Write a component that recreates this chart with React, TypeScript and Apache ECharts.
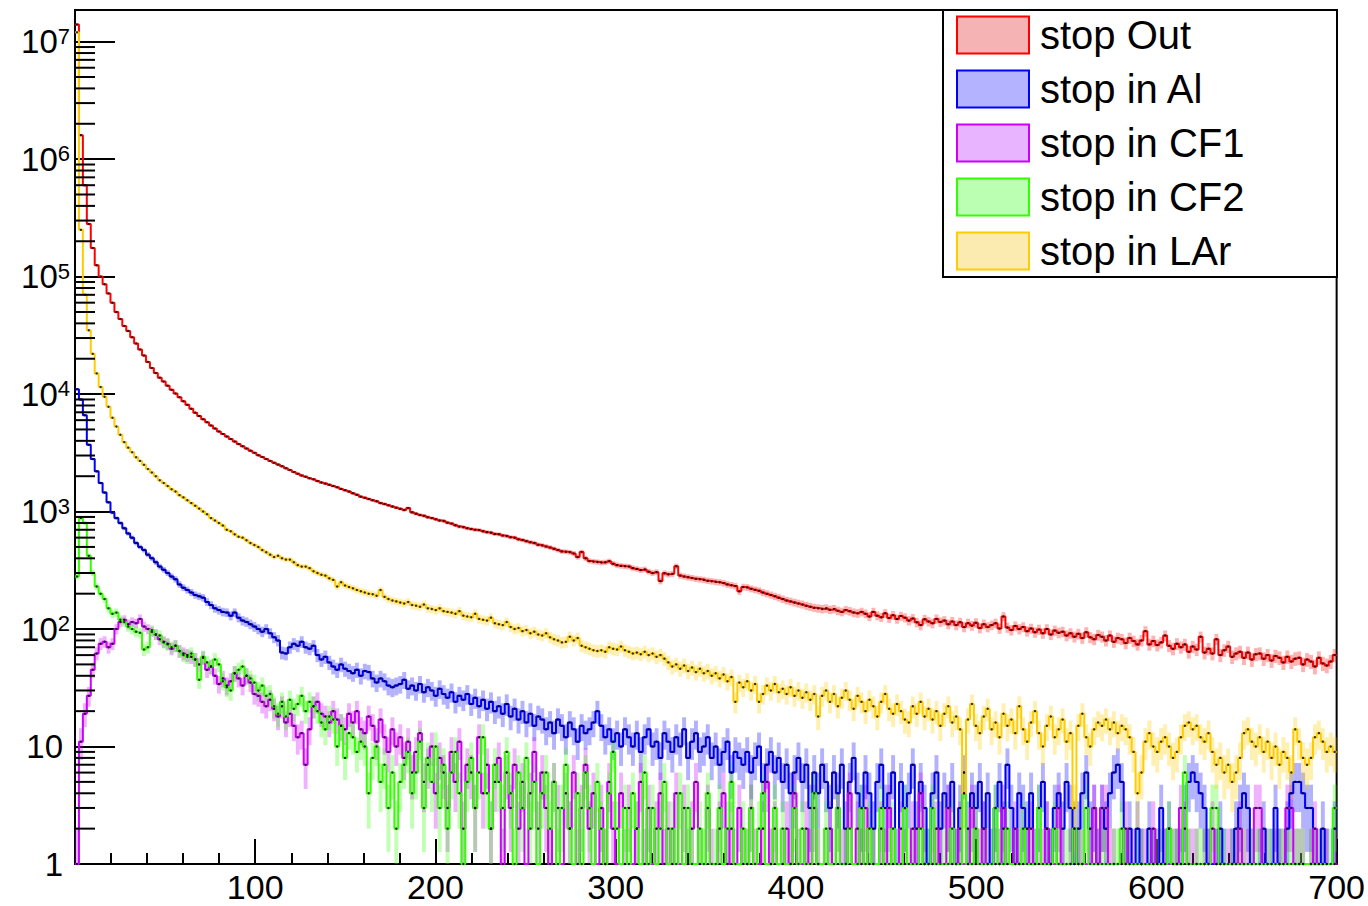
import React, { useEffect, useRef } from "react";
import * as echarts from "echarts";

const X_MIN = 0;
const X_MAX = 700;
const Y_MIN = 1;
const Y_MAX = 1.86e7;
const BIN_COUNT = 320;
const FONT = "'Liberation Sans', Arial, Helvetica, sans-serif";

const LEGEND_NAMES = ["stop Out", "stop in Al", "stop in CF1", "stop in CF2", "stop in LAr"];
const LINE_COLORS = ["#ff0000", "#0000ff", "#cc00ff", "#33ff00", "#ffcc00"];
const BAND_COLORS = [
  "rgba(255,0,0,0.3)",
  "rgba(0,0,255,0.3)",
  "rgba(204,0,255,0.3)",
  "rgba(51,255,0,0.3)",
  "rgba(255,204,0,0.3)",
];
const LEGEND_FILLS = ["#f5b3b3", "#b3b3ff", "#e8b3ff", "#bbffb3", "#fcebb0"];

// counts per bin (320 bins from 0 to 700)
const OUT_COUNTS = [
  14000000, 1600000, 600000, 280000, 175000, 125000, 100000, 86000, 72000, 60000,
  50000, 43500, 38000, 34500, 30500, 27000, 24000, 21300, 18800, 16700,
  15100, 13800, 12800, 11800, 10900, 10100, 9400, 8700, 8100, 7500,
  6950, 6500, 6100, 5750, 5400, 5100, 4800, 4580, 4350, 4150,
  3950, 3760, 3600, 3440, 3300, 3160, 3020, 2910, 2800, 2700,
  2600, 2510, 2430, 2340, 2260, 2170, 2100, 2030, 1980, 1920,
  1880, 1820, 1770, 1730, 1690, 1650, 1610, 1560, 1520, 1480,
  1430, 1390, 1340, 1310, 1280, 1250, 1225, 1180, 1160, 1130,
  1105, 1080, 1055, 1030, 1070, 985, 960, 935, 920, 895,
  880, 860, 840, 830, 805, 790, 765, 745, 735, 720,
  710, 700, 695, 680, 668, 660, 645, 640, 625, 618,
  605, 598, 580, 572, 560, 548, 540, 522, 515, 505,
  495, 482, 470, 458, 455, 450, 440, 410, 452, 400,
  380, 375, 372, 368, 370, 378, 360, 350, 345, 342,
  340, 330, 325, 318, 322, 308, 300, 305, 256, 298,
  292, 295, 342, 285, 280, 276, 272, 268, 265, 262,
  258, 255, 252, 250, 246, 240, 236, 232, 210, 228,
  226, 220, 216, 212, 205, 200, 195, 190, 185, 180,
  175, 172, 168, 165, 162, 158, 155, 152, 150, 148,
  150, 146, 148, 143, 140, 145, 142, 138, 136, 140,
  135, 128, 140, 130, 126, 136, 124, 131, 122, 129,
  125, 118, 123, 114, 108, 121, 116, 112, 122, 115,
  118, 110, 116, 108, 114, 104, 112, 107, 113, 102,
  110, 104, 108, 112, 101, 128, 103, 98, 106, 100,
  104, 96, 101, 94, 99, 92, 100, 90, 97, 93,
  95, 88, 92, 86, 91, 84, 94, 85, 82, 89,
  86, 80, 88, 78, 84, 82, 76, 84, 79, 74,
  80, 96, 74, 79, 73, 77, 88, 72, 68, 75,
  70, 74, 64, 71, 67, 86, 63, 68, 62, 82,
  60, 66, 71, 58, 62, 64, 57, 63, 55, 61,
  62, 56, 60, 54, 59, 57, 52, 58, 53, 56,
  57, 50, 55, 53, 48, 57, 51, 49, 53, 60,
];

const AL_COUNTS = [
  11000, 9000, 6600, 3700, 2800, 2200, 1750, 1450, 1200, 980,
  880, 800, 720, 650, 600, 540, 500, 470, 430, 400,
  370, 340, 320, 300, 280, 265, 240, 225, 215, 205,
  195, 190, 185, 170, 160, 150, 145, 140, 138, 130,
  138, 125, 118, 115, 110, 105, 100, 95, 100, 92,
  85, 80, 63, 62, 70, 75, 72, 78, 70, 68,
  72, 60, 55, 58, 52, 48, 45, 50, 46, 44,
  42, 45, 40, 44, 43, 38, 35, 38, 36, 33,
  32, 33, 34, 37, 31, 33, 30, 34, 29, 32,
  30, 27, 31, 28, 26, 29, 24, 27, 25, 28,
  23, 26, 22, 25, 21, 24, 20, 22, 19, 23,
  18, 21, 17, 20, 16, 19, 15, 18, 17, 14,
  16, 13, 17, 15, 12, 16, 14, 11, 15, 13,
  14, 16, 20, 15, 12, 14, 11, 13, 10, 14,
  12, 10, 13, 9, 12, 14, 10, 11, 8, 13,
  11, 9, 12, 10, 14, 8, 11, 13, 9, 10,
  12, 8, 10, 7, 9, 11, 6, 9, 8, 7,
  9, 6, 8, 10, 5, 7, 9, 6, 8, 5,
  7, 4, 6, 8, 5, 7, 3, 6, 4, 7,
  5, 3, 6, 4, 7, 2, 5, 8, 4, 3,
  6, 4, 2, 5, 7, 3, 4, 6, 1, 5,
  3, 4, 7, 2, 5, 3, 1, 4, 6, 2,
  4, 3, 5, 1, 3, 6, 2, 4, 3, 5,
  2, 4, 1, 3, 5, 2, 7, 3, 1, 4,
  3, 2, 4, 1, 3, 5, 2, 1, 3, 4,
  2, 5, 3, 1, 2, 4, 6, 2, 3, 1,
  3, 2, 4, 6, 7, 5, 1, 2, 0, 2,
  1, 0, 2, 1, 0, 3, 1, 2, 0, 1,
  1, 3, 5, 6, 5, 4, 3, 1, 0, 1,
  2, 1, 0, 1, 2, 3, 4, 3, 1, 0,
  1, 2, 0, 1, 3, 1, 0, 2, 4, 5,
  5, 4, 3, 3, 1, 0, 2, 1, 0, 2,
];

const CF1_COUNTS = [
  1, 11, 19, 27, 45, 62, 75, 78, 70, 75,
  100, 115, 120, 110, 115, 112, 122, 105, 100, 95,
  90, 82, 78, 75, 68, 72, 65, 62, 60, 58,
  55, 50, 57, 45, 48, 40, 34, 38, 33, 36,
  42, 38, 33, 40, 35, 28, 27, 24, 22, 25,
  21, 18, 22, 16, 19, 15, 12, 13, 7, 14,
  22, 24, 19, 18, 16, 20, 17, 15, 14, 19,
  16, 20, 14, 13, 18, 15, 11, 17, 12, 9,
  14, 10, 12, 8, 11, 6, 9, 13, 5, 7,
  10, 4, 8, 6, 3, 9, 5, 11, 2, 7,
  6, 3, 12, 4, 7, 2, 5, 8, 1, 6,
  3, 7, 2, 5, 0, 4, 9, 2, 6, 3,
  1, 5, 3, 0, 4, 2, 6, 1, 3, 7,
  2, 4, 0, 3, 1, 5, 2, 0, 4, 1,
  3, 0, 2, 5, 1, 3, 0, 2, 4, 1,
  2, 1, 4, 0, 3, 1, 2, 5, 1, 0,
  3, 1, 0, 2, 4, 1, 2, 0, 3, 1,
  1, 3, 1, 0, 2, 5, 1, 2, 0, 1,
  2, 1, 4, 1, 0, 2, 1, 3, 1, 0,
  1, 2, 0, 3, 1, 1, 4, 0, 2, 1,
  3, 1, 1, 0, 2, 1, 3, 1, 0, 2,
  1, 0, 2, 1, 4, 1, 0, 1, 2, 1,
  0, 3, 1, 1, 2, 0, 1, 3, 1, 1,
  2, 1, 0, 1, 1, 3, 1, 0, 2, 1,
  1, 1, 2, 0, 1, 1, 2, 1, 0, 3,
  1, 0, 1, 2, 1, 1, 0, 1, 3, 1,
  3, 3, 1, 1, 0, 1, 2, 1, 1, 0,
  1, 1, 0, 2, 1, 1, 1, 0, 1, 1,
  3, 2, 1, 1, 1, 0, 1, 1, 2, 1,
  1, 0, 1, 1, 1, 2, 1, 1, 0, 3,
  3, 1, 1, 0, 1, 1, 1, 3, 3, 1,
  1, 1, 0, 1, 2, 1, 1, 1, 0, 1,
];

const CF2_COUNTS = [
  280, 880, 800, 420, 300, 230, 200, 180, 150, 135,
  138, 120, 115, 105, 100, 95, 93, 67, 70, 98,
  90, 88, 77, 74, 70, 72, 65, 60, 58, 62,
  55, 37, 58, 52, 48, 55, 50, 36, 32, 30,
  42, 45, 48, 40, 38, 35, 30, 33, 27, 28,
  22, 19, 24, 18, 25, 21, 23, 27, 20, 24,
  22, 20, 16, 14, 18, 17, 10, 15, 8, 13,
  12, 9, 11, 10, 4, 8, 10, 5, 7, 3,
  6, 2, 5, 7, 9, 4, 6, 11, 3, 8,
  5, 10, 3, 7, 2, 6, 9, 4, 1, 5,
  8, 3, 6, 12, 4, 2, 7, 5, 3, 9,
  4, 1, 6, 3, 8, 2, 5, 0, 4, 6,
  2, 5, 1, 3, 7, 2, 0, 4, 1, 6,
  3, 0, 5, 2, 1, 4, 9, 2, 0, 3,
  1, 4, 2, 0, 6, 1, 3, 0, 2, 5,
  0, 2, 1, 4, 0, 3, 1, 0, 2, 1,
  4, 0, 1, 3, 0, 2, 5, 1, 0, 2,
  1, 3, 0, 2, 4, 0, 1, 3, 0, 2,
  0, 1, 3, 0, 2, 1, 0, 4, 1, 0,
  2, 0, 1, 3, 0, 1, 2, 0, 1, 3,
  1, 2, 1, 0, 3, 1, 1, 2, 0, 1,
  3, 1, 1, 0, 2, 1, 1, 3, 1, 0,
  1, 1, 2, 0, 1, 4, 1, 1, 2, 0,
  1, 1, 0, 3, 1, 1, 2, 0, 1, 1,
  2, 0, 1, 1, 3, 0, 1, 1, 2, 1,
  0, 1, 1, 2, 1, 1, 3, 0, 1, 1,
  1, 1, 0, 1, 1, 2, 1, 1, 0, 1,
  1, 0, 1, 1, 1, 1, 0, 2, 1, 1,
  1, 6, 1, 0, 1, 1, 1, 0, 3, 3,
  1, 1, 0, 1, 1, 1, 1, 0, 1, 1,
  1, 0, 1, 1, 0, 1, 1, 1, 1, 1,
  1, 1, 0, 1, 1, 1, 1, 0, 1, 3,
];

const LAR_COUNTS = [
  12000000, 250000, 70000, 35000, 22000, 15000, 11500, 9500, 7800, 6300,
  5300, 4500, 3900, 3500, 3200, 2900, 2700, 2500, 2300, 2150,
  2000, 1850, 1750, 1650, 1550, 1480, 1380, 1320, 1250, 1180,
  1120, 1060, 1000, 950, 880, 840, 800, 760, 700, 680,
  640, 610, 600, 570, 540, 520, 500, 470, 450, 430,
  410, 420, 400, 390, 390, 370, 350, 340, 340, 330,
  310, 300, 290, 285, 270, 262, 230, 250, 235, 228,
  222, 215, 210, 205, 200, 198, 192, 215, 188, 180,
  175, 172, 168, 165, 170, 160, 158, 155, 162, 150,
  148, 145, 150, 142, 140, 138, 135, 142, 130, 128,
  126, 135, 122, 120, 118, 125, 112, 110, 108, 115,
  104, 100, 102, 96, 98, 92, 95, 90, 88, 92,
  85, 82, 80, 77, 78, 86, 80, 84, 72, 70,
  68, 66, 65, 66, 64, 70, 68, 67, 71, 66,
  64, 62, 63, 61, 64, 60, 62, 58, 60, 56,
  52, 48, 50, 46, 49, 44, 47, 43, 46, 42,
  44, 40, 42, 38, 41, 36, 39, 24, 35, 32,
  36, 30, 34, 24, 28, 33, 30, 34, 29, 31,
  28, 32, 27, 30, 26, 29, 25, 28, 18, 27,
  30, 24, 28, 22, 26, 30, 25, 21, 27, 24,
  20, 25, 22, 18, 24, 28, 21, 19, 23, 20,
  17, 16, 22, 19, 24, 18, 21, 17, 20, 15,
  19, 22, 16, 18, 14, 4, 17, 23, 15, 13,
  18, 21, 14, 16, 12, 19, 15, 17, 13, 22,
  14, 11, 16, 20, 13, 10, 15, 18, 12, 14,
  17, 11, 13, 3, 15, 19, 12, 10, 14, 16,
  15, 17, 14, 16, 13, 15, 14, 12, 9, 4,
  6, 11, 13, 10, 9, 11, 12, 10, 8, 9,
  12, 15, 16, 14, 15, 12, 11, 13, 9, 7,
  8, 6, 7, 5, 6, 8, 13, 14, 11, 10,
  12, 9, 11, 8, 10, 7, 9, 8, 6, 14,
  11, 8, 7, 8, 12, 13, 11, 9, 10, 9,
];

const ALL_COUNTS = [OUT_COUNTS, AL_COUNTS, CF1_COUNTS, CF2_COUNTS, LAR_COUNTS];

const Y_MINOR_MANTISSAS = [2, 3, 4, 5, 6, 7, 8, 9];
const Y_DECADES = [0, 1, 2, 3, 4, 5, 6, 7];

export default function App() {
  const ref = useRef<HTMLDivElement>(null);

  useEffect(() => {
    if (!ref.current) return;
    const chart = echarts.init(ref.current, null, { renderer: "svg" });
    const binW = (X_MAX - X_MIN) / BIN_COUNT;

    const series: any[] = [];

    // error bands
    ALL_COUNTS.forEach((counts, k) => {
      const bandData: number[][] = [];
      counts.forEach((v, i) => {
        if (v > 0) {
          const s = Math.sqrt(v);
          bandData.push([X_MIN + i * binW, X_MIN + (i + 1) * binW, Math.max(v - s, Y_MIN), v + s]);
        }
      });
      series.push({
        type: "custom",
        name: LEGEND_NAMES[k],
        coordinateSystem: "cartesian2d",
        silent: true,
        z: 2,
        data: bandData,
        encode: { x: [0, 1], y: [2, 3] },
        renderItem: (params: any, api: any) => {
          const p0 = api.coord([api.value(0), api.value(3)]);
          const p1 = api.coord([api.value(1), api.value(2)]);
          return {
            type: "rect",
            shape: { x: p0[0], y: p0[1], width: p1[0] - p0[0], height: p1[1] - p0[1] },
            style: { fill: BAND_COLORS[k] },
          };
        },
      });
    });

    // step lines
    ALL_COUNTS.forEach((counts, k) => {
      const pts: number[][] = [];
      counts.forEach((v, i) => {
        const y = Math.max(v, Y_MIN);
        pts.push([X_MIN + i * binW, y], [X_MIN + (i + 1) * binW, y]);
      });
      series.push({
        type: "line",
        name: LEGEND_NAMES[k],
        data: pts,
        symbol: "none",
        showSymbol: false,
        silent: true,
        z: 3,
        clip: true,
        lineStyle: { color: LINE_COLORS[k], width: 2 },
        itemStyle: { color: LINE_COLORS[k] },
      });
    });

    // bin-centre markers
    ALL_COUNTS.forEach((counts) => {
      const pts: number[][] = [];
      counts.forEach((v, i) => {
        if (v >= 1) pts.push([X_MIN + (i + 0.5) * binW, v]);
      });
      series.push({
        type: "scatter",
        data: pts,
        symbol: "circle",
        symbolSize: 2.4,
        silent: true,
        z: 4,
        itemStyle: { color: "#000" },
      });
    });

    // y minor ticks (2..9 per decade)
    const minorData: number[][] = [];
    Y_DECADES.forEach((e) =>
      Y_MINOR_MANTISSAS.forEach((m) => {
        const v = m * Math.pow(10, e);
        if (v < Y_MAX) minorData.push([X_MIN, v]);
      })
    );
    series.push({
      type: "custom",
      coordinateSystem: "cartesian2d",
      silent: true,
      z: 5,
      data: minorData,
      encode: { x: 0, y: 1 },
      renderItem: (params: any, api: any) => {
        const p = api.coord([api.value(0), api.value(1)]);
        return {
          type: "line",
          shape: { x1: p[0], y1: p[1], x2: p[0] + 20, y2: p[1] },
          style: { stroke: "#000", lineWidth: 2 },
        };
      },
    });

    const option: any = {
      animation: false,
      backgroundColor: "#ffffff",
      grid: {
        left: 75,
        right: 31,
        top: 10,
        bottom: 42,
        show: true,
        borderColor: "#000",
        borderWidth: 2,
      },
      xAxis: {
        type: "value",
        min: X_MIN,
        max: X_MAX,
        interval: 100,
        axisLine: { show: true, lineStyle: { color: "#000", width: 2 } },
        axisTick: { show: true, inside: true, length: 25, lineStyle: { color: "#000", width: 2 } },
        minorTick: { show: true, splitNumber: 5, length: 11, lineStyle: { color: "#000", width: 2 } },
        splitLine: { show: false },
        axisLabel: {
          fontSize: 34,
          fontFamily: FONT,
          color: "#000",
          margin: 6,
          formatter: (v: number) => (v === X_MIN ? "" : String(v)),
        },
      },
      yAxis: {
        type: "log",
        logBase: 10,
        min: Y_MIN,
        max: Y_MAX,
        splitNumber: 8,
        axisLine: { show: true, lineStyle: { color: "#000", width: 2 } },
        axisTick: { show: true, inside: true, length: 40, lineStyle: { color: "#000", width: 2 } },
        splitLine: { show: false },
        axisLabel: {
          fontSize: 33,
          fontFamily: FONT,
          color: "#000",
          margin: 5,
          formatter: (v: number) => {
            const e = Math.round(Math.log10(v));
            if (Math.abs(v - Math.pow(10, e)) > 1e-6 * v) return "";
            if (e === 0) return "{p|1}";
            if (e === 1) return "{p|10}";
            return "{b|10}{s|" + e + "}";
          },
          rich: {
            b: { fontSize: 33, fontFamily: FONT, color: "#000" },
            p: { fontSize: 33, fontFamily: FONT, color: "#000", padding: [0, 7, 0, 0] },
            s: { fontSize: 22, fontFamily: FONT, color: "#000", verticalAlign: "top" },
          },
        },
      },
      legend: {
        show: true,
        orient: "vertical",
        left: 956,
        top: 15,
        itemWidth: 72,
        itemHeight: 37,
        itemGap: 14,
        padding: 0,
        selectedMode: false,
        z: 20,
        textStyle: {
          fontSize: 40,
          lineHeight: 38,
          fontFamily: FONT,
          color: "#000",
          padding: [0, 0, 0, 6],
        },
        data: LEGEND_NAMES.map((n, k) => ({
          name: n,
          icon: "rect",
          itemStyle: { color: LEGEND_FILLS[k], borderColor: LINE_COLORS[k], borderWidth: 2 },
        })),
      },
      graphic: {
        elements: [
          {
            type: "rect",
            z: 15,
            shape: { x: 943, y: 10, width: 394, height: 267 },
            style: { fill: "#ffffff", stroke: "#000", lineWidth: 2 },
          },
        ],
      },
      series,
    };

    chart.setOption(option);
    return () => chart.dispose();
  }, []);

  return (
    <div
      ref={ref}
      style={{ position: "fixed", left: 0, top: 0, width: 1368, height: 906, background: "#fff" }}
    />
  );
}
